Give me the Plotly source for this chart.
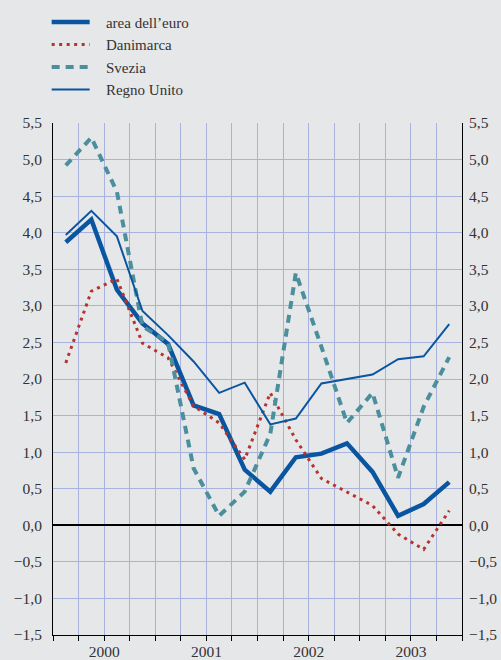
import plotly.graph_objects as go

quarters = [i + 0.5 for i in range(16)]  # 2000Q1 .. 2003Q4 (quarter centres)
years = ["2000", "2001", "2002", "2003"]
year_pos = [2, 6, 10, 14]
names = ["area dell\u2019euro", "Danimarca", "Svezia", "Regno Unito"]

euro = [3.87, 4.18, 3.22, 2.76, 2.48, 1.64, 1.52, 0.76, 0.46, 0.93, 0.98, 1.12, 0.73, 0.13, 0.29, 0.59]
danimarca = [2.22, 3.20, 3.37, 2.49, 2.29, 1.63, 1.40, 0.90, 1.81, 1.17, 0.64, 0.45, 0.27, -0.12, -0.33, 0.20]
svezia = [4.92, 5.30, 4.56, 2.72, 2.50, 0.78, 0.13, 0.46, 1.25, 3.45, 2.44, 1.40, 1.81, 0.65, 1.62, 2.30]
regno = [3.97, 4.30, 3.95, 2.93, 2.60, 2.24, 1.81, 1.95, 1.38, 1.46, 1.94, 2.00, 2.06, 2.27, 2.31, 2.75]

y_ticks = [-1.5 + 0.5 * k for k in range(15)]

BLUE = "#0a55a0"
TEAL = "#4b8e9c"
RED = "#b5332b"
GRID = "#a9b2dc"
BG = "#e6e7e9"
FONT = "Liberation Serif, Times New Roman, Times, serif"
TXT = "#333333"
PAD = "\u00a0\u00a0\u00a0"  # extra gap between legend sample and label

fig = go.Figure()
fig.add_trace(go.Scatter(x=quarters, y=euro, name=PAD + names[0], mode="lines",
                         line=dict(color=BLUE, width=4.5), legendgroup="a"))
fig.add_trace(go.Scatter(x=quarters, y=danimarca, name=PAD + names[1], mode="lines",
                         line=dict(color=RED, width=3, dash="3px,4.5px"), legendgroup="b"))
fig.add_trace(go.Scatter(x=quarters, y=svezia, name=PAD + names[2], mode="lines",
                         line=dict(color=TEAL, width=4, dash="8px,6px"), legendgroup="c"))
fig.add_trace(go.Scatter(x=quarters, y=regno, name=PAD + names[3], mode="lines",
                         line=dict(color=BLUE, width=2), legendgroup="d"))
# invisible trace to carry right axis and year axis
fig.add_trace(go.Scatter(x=quarters, y=euro, yaxis="y2", xaxis="x2", mode="lines",
                         line=dict(width=0), showlegend=False, hoverinfo="skip", opacity=0))

fig.update_layout(
    width=501, height=660,
    margin=dict(l=53, r=39, t=123, b=25, autoexpand=False),
    paper_bgcolor=BG, plot_bgcolor=BG,
    separators=", ",
    font=dict(family=FONT, size=15.5, color=TXT),
    showlegend=True,
    legend=dict(x=-0.0155, y=1.229, xanchor="left", yanchor="top",
                bgcolor="rgba(0,0,0,0)", font=dict(family=FONT, size=15, color=TXT),
                itemwidth=38, tracegroupgap=0, traceorder="grouped"),
    xaxis=dict(range=[0, 16], tickvals=list(range(17)), showticklabels=False,
               showgrid=True, gridcolor=GRID, gridwidth=1, automargin=False,
               ticks="outside", ticklen=5, tickcolor="black",
               showline=True, linecolor="black", linewidth=1, mirror=False,
               zeroline=False),
    xaxis2=dict(range=[0, 16], overlaying="x", side="bottom", tickvals=year_pos,
                ticktext=years, showgrid=False, zeroline=False, showline=False, automargin=False,
                ticks="", ticklabelstandoff=5, tickfont=dict(family=FONT, size=15.5, color=TXT)),
    yaxis=dict(range=[-1.5, 5.5], tickvals=y_ticks, tickformat=".1f", automargin=False,
               showgrid=True, gridcolor=GRID, gridwidth=1,
               zeroline=True, zerolinecolor="black", zerolinewidth=1.5,
               showline=True, linecolor="black", linewidth=1, mirror=True,
               ticks="", ticklabelstandoff=7),
    yaxis2=dict(range=[-1.5, 5.5], tickvals=y_ticks, tickformat=".1f", overlaying="y",
                side="right", showgrid=False, zeroline=False, showline=False, automargin=False,
                ticks="", ticklabelstandoff=6),
)

fig.write_html("out.html", config={"displayModeBar": False},
               post_script="document.body.style.margin='0px';document.body.style.overflow='hidden';")
